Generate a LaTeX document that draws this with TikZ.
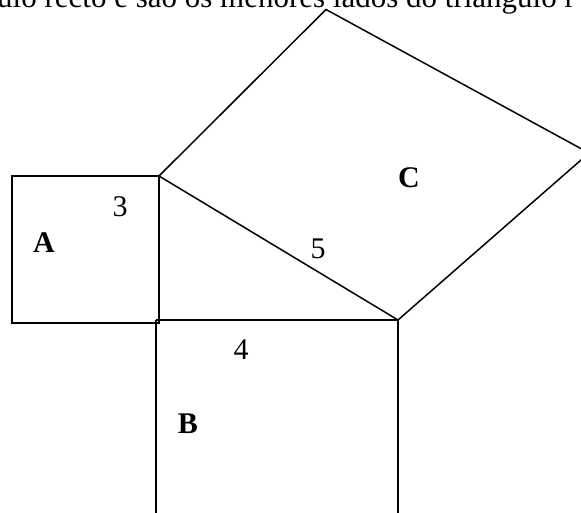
\documentclass[tikz,border=0pt]{standalone}
\usepackage{fontspec}
\setmainfont{Liberation Serif}

\begin{document}
\begin{tikzpicture}[
  x=1pt, y=-1pt,
  every node/.style={font=\fontsize{30}{36}\selectfont, inner sep=0pt},
  sqline/.style={draw, line width=2pt, line join=miter},
  thinline/.style={draw, line width=1.5pt, line join=miter},
  sqlabel/.style={font=\fontsize{30}{36}\selectfont\bfseries}
]
\useasboundingbox (0,0) rectangle (581,512);
\clip (0,0) rectangle (581,512);

% vertices of the triangle and of the squares
\coordinate (r) at (159,176);
\coordinate (q) at (159,320);
\coordinate (s) at (398,320);
\coordinate (a1) at (12,176);
\coordinate (a2) at (12,323);
\coordinate (a3) at (159,323);
\coordinate (b1) at (156,320);
\coordinate (b2) at (156,530);
\coordinate (b3) at (398,530);
\coordinate (c1) at (326,9.5);
\coordinate (c2) at (589,153);

\node[anchor=base west, font=\fontsize{31}{37}\selectfont] (top) at (-3,7)
  {ulo recto e são os menores lados do triângulo r};

\draw[sqline] (r) -- (a1) -- (a2) -- (a3) -- cycle;
\draw[sqline] (b1) -- (b2);
\draw[sqline] (b1) -- (s) -- (b3);
\draw[thinline] (r) -- (c1) -- (c2) -- (s);
\draw[thinline] (r) -- (s);

\node[sqlabel] (la) at (44,243) {A};
\node[sqlabel] (lb) at (188,424) {B};
\node[sqlabel] (lc) at (409,178) {C};
\node (n3) at (120,207) {3};
\node (n4) at (241,350) {4};
\node (n5) at (318,249) {5};
\end{tikzpicture}
\end{document}
